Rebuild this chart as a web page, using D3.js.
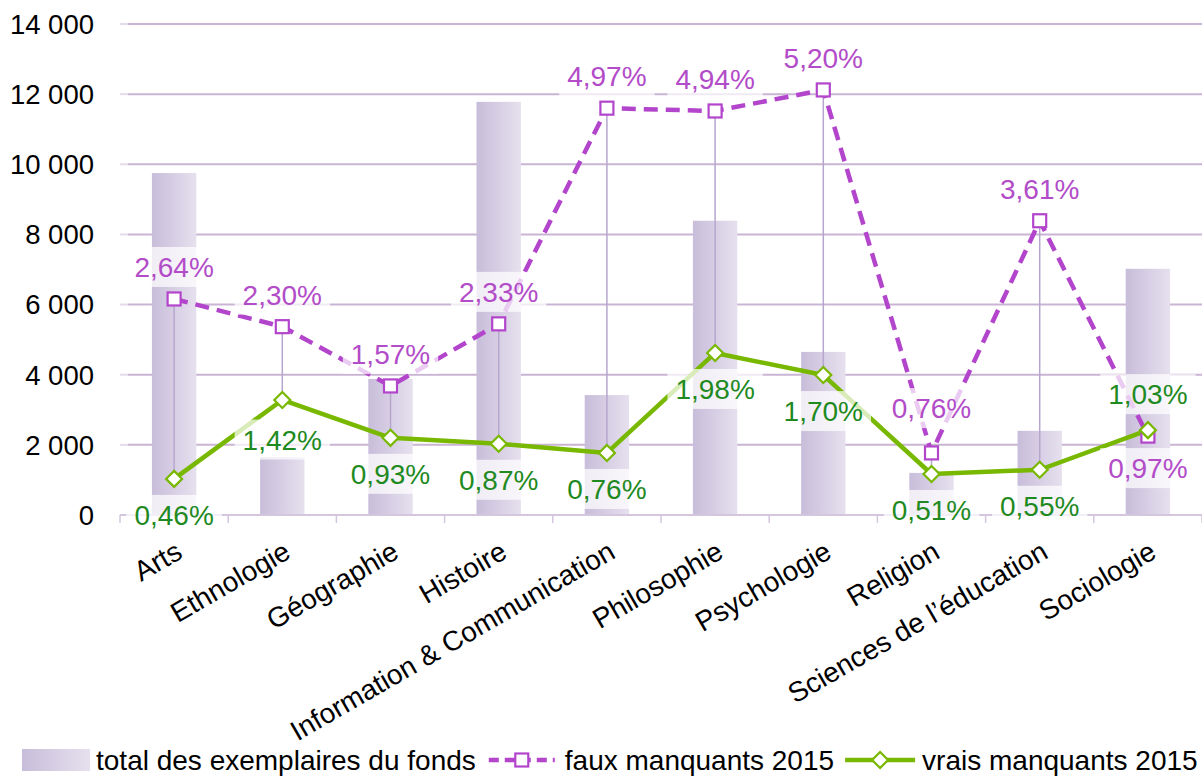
<!DOCTYPE html>
<html><head><meta charset="utf-8">
<script src="https://cdn.jsdelivr.net/npm/d3@7"></script>
<style>
html,body{margin:0;padding:0;background:#fff;}
svg{display:block;font-family:"Liberation Sans",Arial,sans-serif;}
</style></head>
<body><svg id="c" width="1202" height="778"></svg>
<script>
const categories = ["Arts","Ethnologie","Géographie","Histoire","Information & Communication","Philosophie","Psychologie","Religion","Sciences de l’éducation","Sociologie"];
const totalFonds = [9750, 1650, 3880, 11780, 3420, 8390, 4650, 1200, 2400, 7020];
const fauxManquants = [6160, 5370, 3680, 5450, 11600, 11520, 12120, 1770, 8390, 2250];
const vraisManquants = [1030, 3280, 2200, 2030, 1770, 4620, 3990, 1170, 1290, 2420];
const fauxPct = [2.64, 2.30, 1.57, 2.33, 4.97, 4.94, 5.20, 0.76, 3.61, 0.97];
const vraisPct = [0.46, 1.42, 0.93, 0.87, 0.76, 1.98, 1.70, 0.51, 0.55, 1.03];
const yTicks = [0, 2000, 4000, 6000, 8000, 10000, 12000, 14000];
const seriesNames = ["total des exemplaires du fonds", "faux manquants 2015", "vrais manquants 2015"];
// label placement (style): negative above, positive below (multiples of base offset)
const fauxPlace = [-1,-1,-1,-1,-1,-1,-1,-1.4,-1, 1];
const vraisPlace = [1, 1.1, 1, 1, 1, 1, 1, 1, 1,-1];

const svg = d3.select("#c");
const L = 120, R = 1202, T = 24, B = 515;
const FS = 28;
const x = d3.scaleBand().domain(categories).range([L, R]).padding(0);
const y = d3.scaleLinear().domain([0, 14000]).range([B, T]);
const cx = c => x(c) + x.bandwidth() / 2;
const loc = d3.formatLocale({decimal: ",", thousands: " ", grouping: [3], currency: ["", "€"]});
const fmtN = loc.format(",d");
const fmtP = v => loc.format(".2f")(v) + "%";

const PURPLE = "#B245CB", GREEN = "#78B800", GREENTXT = "#1F8A1F", PURPTXT = "#B24CC8";
const defs = svg.append("defs");
const grad = defs.append("linearGradient").attr("id", "bg").attr("x1", "0").attr("x2", "1").attr("y1", "0").attr("y2", "0");
grad.append("stop").attr("offset", "0").attr("stop-color", "#C8BDDA");
grad.append("stop").attr("offset", "1").attr("stop-color", "#E6E0EE");

// gridlines
svg.append("g").selectAll("line").data(yTicks.filter(d => d > 0)).join("line")
  .attr("x1", L + 8).attr("x2", R).attr("y1", d => y(d)).attr("y2", d => y(d))
  .attr("stroke", "#C9B5D3").attr("stroke-width", 2);
svg.append("g").selectAll("line").data(yTicks).join("line")
  .attr("x1", L).attr("x2", L + 8).attr("y1", d => y(d)).attr("y2", d => y(d))
  .attr("stroke", "#E4DCEA").attr("stroke-width", 2);
// y labels
svg.append("g").selectAll("text").data(yTicks).join("text")
  .attr("x", 94).attr("y", d => y(d)).attr("dy", "0.36em").attr("text-anchor", "end")
  .attr("font-size", 27.5).attr("fill", "#000").text(d => fmtN(d));

// bars
const bw = x.bandwidth() * 0.41;
svg.append("g").selectAll("rect").data(categories).join("rect")
  .attr("x", d => cx(d) - bw / 2).attr("width", bw)
  .attr("y", (d, i) => y(totalFonds[i])).attr("height", (d, i) => B - y(totalFonds[i]))
  .attr("fill", "url(#bg)");

// x axis
svg.append("line").attr("x1", L).attr("x2", R).attr("y1", B).attr("y2", B).attr("stroke", "#D3C6DD").attr("stroke-width", 2);
svg.append("g").selectAll("line").data(categories.concat([null])).join("line")
  .attr("x1", (d, i) => L + i * x.bandwidth()).attr("x2", (d, i) => L + i * x.bandwidth())
  .attr("y1", B).attr("y2", B + 8).attr("stroke", "#D3C6DD").attr("stroke-width", 1.5);

// hi-lo lines
svg.append("g").selectAll("line").data(categories).join("line")
  .attr("x1", d => cx(d)).attr("x2", d => cx(d))
  .attr("y1", (d, i) => y(fauxManquants[i])).attr("y2", (d, i) => y(vraisManquants[i]))
  .attr("stroke", "#B6A6CE").attr("stroke-width", 1.5);

// lines
const line = d3.line().x(d => cx(d[0])).y(d => y(d[1]));
svg.append("path").datum(categories.map((c, i) => [c, fauxManquants[i]]))
  .attr("d", line).attr("fill", "none").attr("stroke", PURPLE).attr("stroke-width", 4.5)
  .attr("stroke-dasharray", "14,8").attr("stroke-linejoin", "round");
svg.append("path").datum(categories.map((c, i) => [c, vraisManquants[i]]))
  .attr("d", line).attr("fill", "none").attr("stroke", GREEN).attr("stroke-width", 4.5)
  .attr("stroke-linejoin", "round");

// markers
function square(g, px, py) {
  g.append("rect").attr("x", px - 6.5).attr("y", py - 6.5).attr("width", 13).attr("height", 13)
    .attr("fill", "#fff").attr("stroke", PURPLE).attr("stroke-width", 2.2);
}
function diamond(g, px, py) {
  const r = 8;
  g.append("path").attr("d", `M${px},${py - r}L${px + r},${py}L${px},${py + r}L${px - r},${py}Z`)
    .attr("fill", "#fff").attr("stroke", GREEN).attr("stroke-width", 2.2);
}
const mk = svg.append("g");
categories.forEach((c, i) => { square(mk, cx(c), y(fauxManquants[i])); });
categories.forEach((c, i) => { diamond(mk, cx(c), y(vraisManquants[i])); });

// data labels
const lab = svg.append("g");
function addLabel(px, py, txt, color) {
  const g = lab.append("g");
  const rect = g.append("rect");
  const t = g.append("text").attr("x", px).attr("y", py).attr("dy", "0.36em").attr("text-anchor", "middle")
    .attr("font-size", FS).attr("fill", color).text(txt);
  const w = t.node().getComputedTextLength();
  rect.attr("x", px - w / 2 - 8).attr("y", py - 20).attr("width", w + 16).attr("height", 40)
    .attr("fill", "#fff").attr("opacity", 0.72);
}
categories.forEach((c, i) => {
  addLabel(cx(c), y(fauxManquants[i]) + fauxPlace[i] * 32, fmtP(fauxPct[i]), PURPTXT);
});
categories.forEach((c, i) => {
  addLabel(cx(c), y(vraisManquants[i]) + vraisPlace[i] * 36, fmtP(vraisPct[i]), GREENTXT);
});

// category labels
svg.append("g").selectAll("text").data(categories).join("text")
  .attr("transform", d => `translate(${cx(d) + 10},557) rotate(-30)`)
  .attr("text-anchor", "end").attr("font-size", FS).attr("fill", "#000").text(d => d);

// legend
const lg = svg.append("g");
const ly = 760;
let lx = 22;
lg.append("rect").attr("x", lx).attr("y", ly - 11).attr("width", 68).attr("height", 22).attr("fill", "url(#bg)");
lx += 74;
let t1 = lg.append("text").attr("x", lx).attr("y", ly).attr("dy", "0.36em").attr("font-size", FS).text(seriesNames[0]);
lx += t1.node().getComputedTextLength() + 13;
lg.append("line").attr("x1", lx).attr("x2", lx + 66).attr("y1", ly).attr("y2", ly)
  .attr("stroke", PURPLE).attr("stroke-width", 4.5).attr("stroke-dasharray", "10,6");
square(lg, lx + 33, ly);
lx += 76;
let t2 = lg.append("text").attr("x", lx).attr("y", ly).attr("dy", "0.36em").attr("font-size", FS).text(seriesNames[1]);
lx += t2.node().getComputedTextLength() + 11;
lg.append("line").attr("x1", lx).attr("x2", lx + 70).attr("y1", ly).attr("y2", ly)
  .attr("stroke", GREEN).attr("stroke-width", 4.5);
diamond(lg, lx + 35, ly);
lx += 77;
lg.append("text").attr("x", lx).attr("y", ly).attr("dy", "0.36em").attr("font-size", FS).text(seriesNames[2]);
</script></body></html>
